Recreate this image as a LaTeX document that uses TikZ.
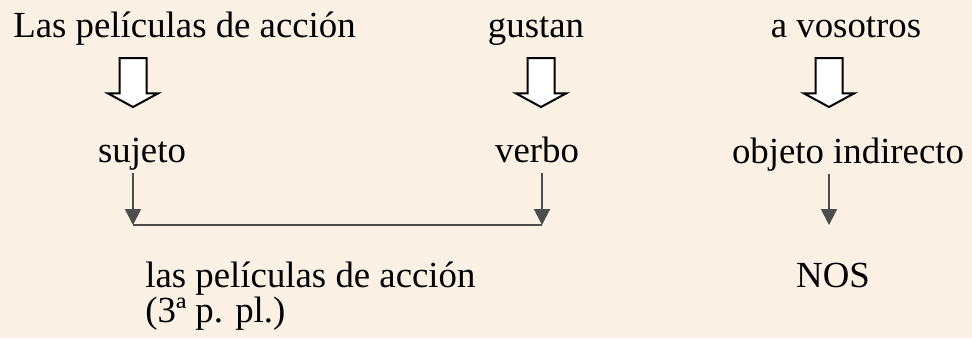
\documentclass[tikz,border=0pt]{standalone}
\usepackage{fontspec}
\setmainfont{Liberation Serif}
\usetikzlibrary{arrows.meta,shapes.arrows}
\definecolor{fondo}{RGB}{250,241,228}
\definecolor{gris}{RGB}{77,77,77}

\begin{document}
\begin{tikzpicture}[
        x = 0.5pt, y = -0.5pt,
    Texto/.style={inner sep=0pt, text depth=.25em,
                  font=\fontsize{18.4}{22}\selectfont},
   Bloque/.style={shape=single arrow, draw, fill=white, line width=1pt,
                  rotate=-90, anchor=tail, inner xsep=0pt, inner ysep=6.25pt,
                  minimum height=24.5pt, minimum width=24pt,
                  single arrow head extend=5.75pt, single arrow tip angle=123},
   Flecha/.style={draw=gris, line width=1pt, shorten <=3pt,
                  -{Triangle[length=8pt, width=8pt]}},
  ]
\fill[fondo] (0,0) rectangle (972,338);
\useasboundingbox (0,0) rectangle (972,338);
% fila de arriba
\node [Texto, anchor=base west] (peliculas) at (13,37) {Las películas de acción};
  \node [Texto, anchor=base] (gustan) at (536,37) {gustan};
  \node [Texto, anchor=base] (vosotros) at (846,37) {a vosotros};
% funciones
\node [Texto, anchor=base] (sujeto) at (142,162) {sujeto};
  \node [Texto, anchor=base] (verbo) at (537,162) {verbo};
  \node [Texto, anchor=base] (objeto) at (848,163) {objeto indirecto};
% resultado
\node [Texto, anchor=base west] (las) at (145,287) {las películas de acción};
  \node [Texto, anchor=base west] (persona) at (145,322) {(3ª p. pl.)};
  \node [Texto, anchor=base] (nos) at (833,287) {NOS};
% flechas blancas
\node [Bloque] (b1) at (133,57) {};
  \node [Bloque] (b2) at (541,57) {};
  \node [Bloque] (b3) at (829,57) {};
% flechas grises
\coordinate (izq) at (133,225);
\coordinate (der) at (542,225);
\coordinate (fin) at (829,225);
\draw[gris, line width=1pt] (izq) -- (der);
  \draw[Flecha] (sujeto.south -| izq) -- (izq);
  \draw[Flecha] (verbo.south -| der) -- (der);
  \draw[Flecha] (objeto.south -| fin) -- (fin);
\end{tikzpicture}
\end{document}
